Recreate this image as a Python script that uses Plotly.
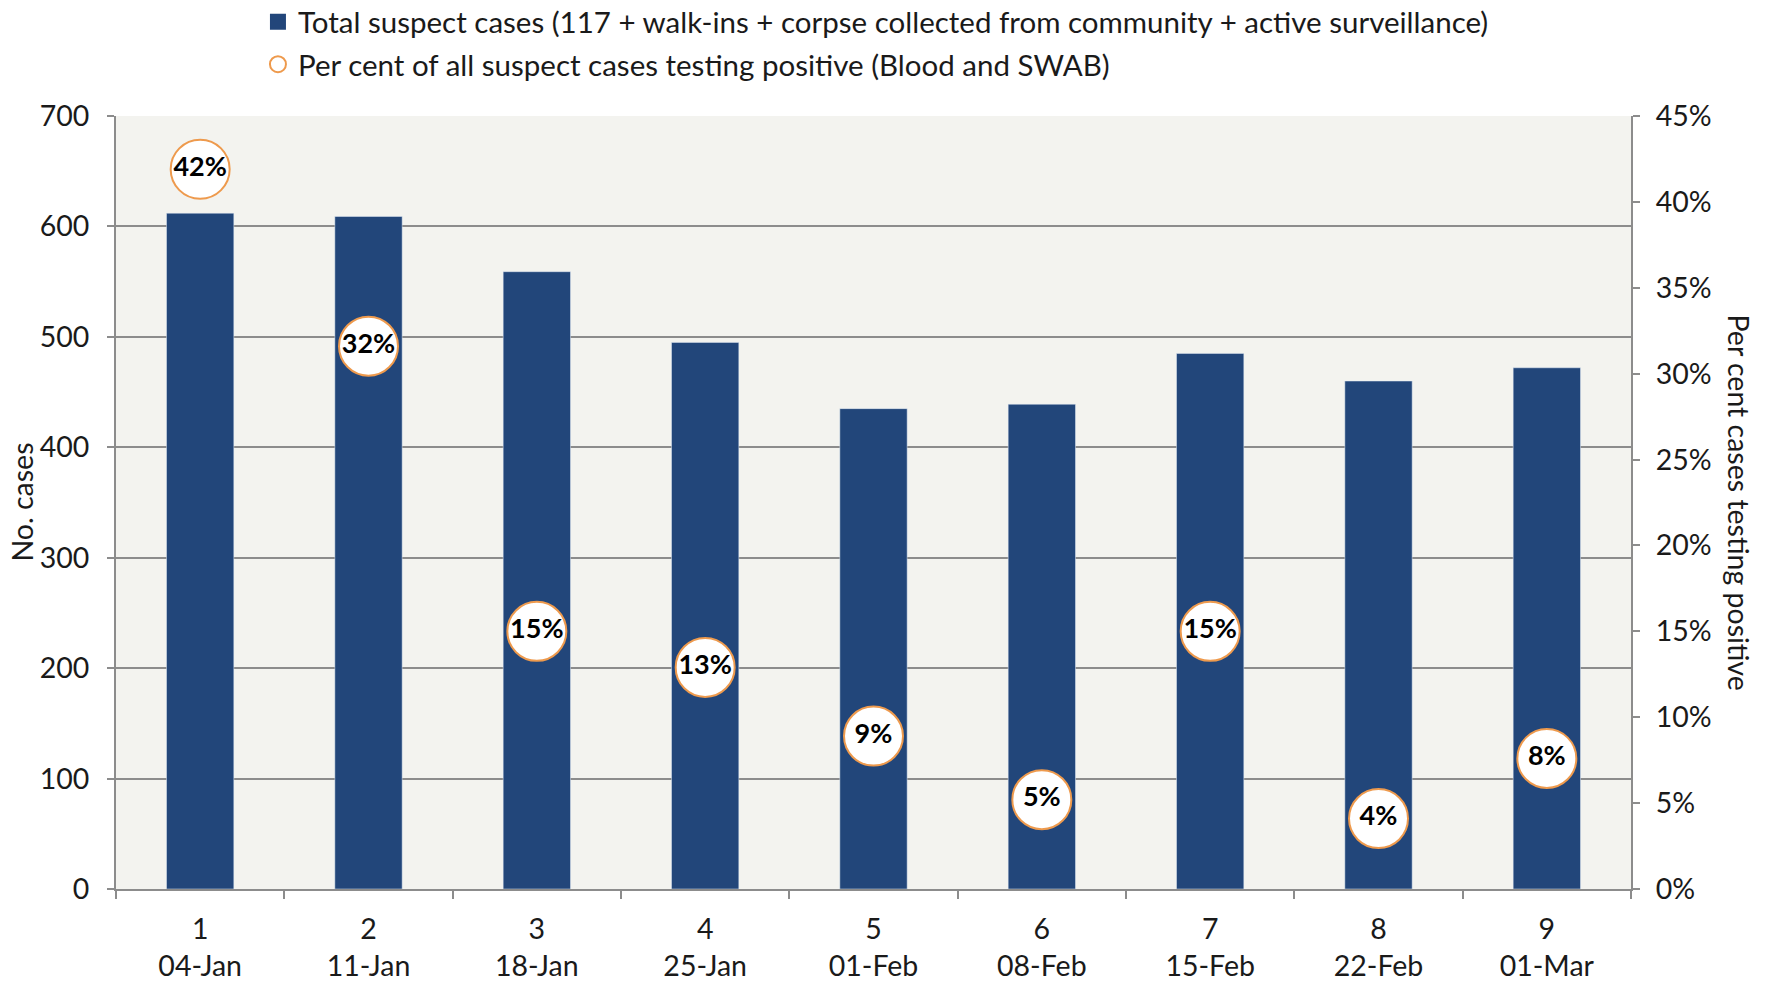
import plotly.graph_objects as go

weeks = ["1", "2", "3", "4", "5", "6", "7", "8", "9"]
dates = ["04-Jan", "11-Jan", "18-Jan", "25-Jan", "01-Feb", "08-Feb", "15-Feb", "22-Feb", "01-Mar"]
total_cases = [612, 609, 559, 495, 435, 439, 485, 460, 472]
pct_positive = [41.9, 31.6, 15.0, 12.9, 8.9, 5.2, 15.0, 4.1, 7.6]
pct_labels = ["42%", "32%", "15%", "13%", "9%", "5%", "15%", "4%", "8%"]

cats = [f"{w}<br>{d}" for w, d in zip(weeks, dates)]

FONT = "Lato"
GRID = "#8C8C8C"
BLUE = "#22467A"
ORANGE = "#EE9A4D"
FS = 28.5

fig = go.Figure()
fig.add_trace(go.Bar(
    x=cats, y=total_cases, marker_color=BLUE, width=0.4, showlegend=False,
))
# legend-only entry for the bars (larger square symbol)
fig.add_trace(go.Scatter(
    x=[None], y=[None], mode="markers", legendgroup="a",
    marker=dict(symbol="square", size=20, color=BLUE),
    name="Total suspect cases (117 + walk-ins + corpse collected from community + active surveillance)",
))
fig.add_trace(go.Scatter(
    x=cats, y=pct_positive, yaxis="y2", mode="markers", legendgroup="b",
    marker=dict(size=59, color="white", line=dict(color=ORANGE, width=2)),
    name="Per cent of all suspect cases testing positive (Blood and SWAB)",
))
fig.add_trace(go.Scatter(
    x=cats, y=pct_positive, yaxis="y2", mode="text", text=pct_labels,
    textfont=dict(family=FONT, size=27, color="black", weight="bold"),
    showlegend=False,
))

fig.update_layout(
    width=1772, height=983,
    margin=dict(l=108, r=149, t=108, b=102, autoexpand=False),
    paper_bgcolor="white", plot_bgcolor="#F3F3EF",
    font=dict(family=FONT, size=FS, color="#1a1a1a"),
    showlegend=True,
    legend=dict(x=0.0937, xanchor="left", y=1.155, yanchor="top", yref="paper",
                font=dict(size=29.5), itemsizing="trace", bgcolor="rgba(0,0,0,0)",
                traceorder="grouped", tracegroupgap=1, itemwidth=30),
    xaxis=dict(
        range=[-0.5, 8.5], autorange=False,
        showline=True, linecolor=GRID, linewidth=2,
        ticks="outside", tickson="boundaries", ticklen=8, tickcolor=GRID, tickwidth=2,
        tickfont=dict(size=FS), showgrid=False, automargin=False, ticklabelstandoff=14,
    ),
    yaxis=dict(
        range=[0, 700], dtick=100, showgrid=True, gridcolor=GRID, gridwidth=2,
        showline=True, linecolor=GRID, linewidth=2, ticks="outside", ticklen=7,
        tickcolor=GRID, tickwidth=2, tickfont=dict(size=FS),
        zeroline=False, automargin=False, ticklabelstandoff=12,
    ),
    yaxis2=dict(
        range=[0, 45], dtick=5, overlaying="y", side="right", ticksuffix="%",
        showgrid=False, showline=True, linecolor=GRID, linewidth=2,
        ticks="outside", ticklen=7, tickcolor=GRID, tickwidth=2, tickfont=dict(size=FS),
        zeroline=False, automargin=False, ticklabelstandoff=10,
    ),
    annotations=[
        dict(text="Per cent cases testing positive", textangle=90,
             xref="paper", yref="paper", x=1.0, xshift=108, y=0.5,
             showarrow=False, font=dict(size=FS), xanchor="center", yanchor="middle"),
        dict(text="No. cases", textangle=-90,
             xref="paper", yref="paper", x=0.0, xshift=-95, y=0.5,
             showarrow=False, font=dict(size=FS), xanchor="center", yanchor="middle"),
    ],
)

fig.write_html("out.html")
